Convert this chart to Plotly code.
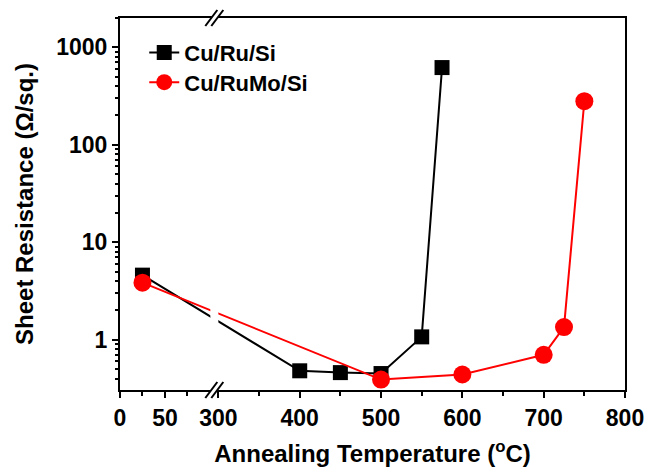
import numpy as np
import plotly.graph_objects as go

# ---- data ----
ru_temp = [25, 400, 450, 500, 550, 575]
ru_rs = [4.6, 0.48, 0.46, 0.45, 1.07, 620]
rumo_temp = [25, 500, 600, 700, 725, 750]
rumo_rs = [3.85, 0.39, 0.44, 0.70, 1.35, 280]
x_major = [0, 50, 300, 400, 500, 600, 700, 800]
x_minor = [25, 75, 350, 450, 550, 650, 750]
y_major = [1, 10, 100, 1000]

# ---- broken x-axis scale: low segment (0..~105) and high segment (~295..800) ----
U0, K, BREAK = 179.0, 1.105, 295.0


def u(t):
    t = np.asarray(t, dtype=float)
    return np.where(t < 200, U0 + K * t, t)


y_minor = [m * 10 ** d for d in range(-1, 4) for m in range(2, 10)
           if 0.3 <= m * 10 ** d <= 2000]

fig = go.Figure()
fig.add_trace(go.Scatter(
    x=u(ru_temp), y=ru_rs, mode="lines+markers", name="Cu/Ru/Si",
    line=dict(color="black", width=2),
    marker=dict(symbol="square", size=15, color="black"),
    legend="legend", showlegend=True))
fig.add_trace(go.Scatter(
    x=u(rumo_temp), y=rumo_rs, mode="lines+markers", name="Cu/RuMo/Si",
    line=dict(color="#ff0000", width=2),
    marker=dict(symbol="circle", size=18, color="#ff0000"),
    legend="legend2", showlegend=True))

font = "Liberation Sans, Arial, sans-serif"
fig.update_layout(
    width=656, height=475,
    margin=dict(l=120, r=20, t=18, b=81),
    plot_bgcolor="white", paper_bgcolor="white",
    showlegend=True,
    font=dict(family=font, color="black"),
    legend=dict(x=0.048, y=0.907, xanchor="left", yanchor="middle",
                font=dict(size=22, family=font, weight="bold"),
                bgcolor="rgba(0,0,0,0)"),
    legend2=dict(x=0.048, y=0.827, xanchor="left", yanchor="middle",
                 font=dict(size=22, family=font, weight="bold"),
                 bgcolor="rgba(0,0,0,0)"),
)
fig.update_xaxes(
    range=[U0, 800], showgrid=False, zeroline=False,
    showline=True, linewidth=2, linecolor="black", mirror=True,
    tickmode="array", tickvals=u(x_major), ticktext=[str(v) for v in x_major],
    ticks="outside", ticklen=6, tickwidth=2, tickcolor="black",
    ticklabeloverflow="allow",
    minor=dict(tickmode="array", tickvals=u(x_minor), ticks="outside",
               ticklen=4, tickwidth=2, tickcolor="black", showgrid=False),
    tickfont=dict(size=23, family=font, weight="bold"),
    title=dict(text="Annealing Temperature (<sup>o</sup>C)",
               font=dict(size=24, family=font, weight="bold"), standoff=16),
)
fig.update_yaxes(
    type="log", range=[np.log10(0.305), np.log10(2000)],
    showgrid=False, zeroline=False,
    showline=True, linewidth=2, linecolor="black", mirror=True,
    tickmode="array", tickvals=y_major, ticktext=[str(v) for v in y_major],
    ticks="outside", ticklen=6, tickwidth=2, tickcolor="black",
    minor=dict(tickmode="array", tickvals=y_minor, ticks="outside",
               ticklen=3, tickwidth=1.5, tickcolor="black", showgrid=False),
    tickfont=dict(size=23, family=font, weight="bold"),
    title=dict(text="Sheet Resistance (\u03a9/sq.)",
               font=dict(size=24, family=font, weight="bold"), standoff=16),
)

# ---- axis break decorations ----
# gap in the data lines
fig.add_shape(type="rect", xref="x", yref="paper", xsizemode="pixel",
              xanchor=BREAK, x0=-4, x1=4, y0=0.01, y1=0.99,
              fillcolor="white", line=dict(width=0), layer="above")
for yy in (0, 1):
    fig.add_shape(type="path", xref="x", yref="paper",
                  xsizemode="pixel", ysizemode="pixel",
                  xanchor=BREAK, yanchor=yy,
                  path="M -6,-7 L 0,-7 L 6,7 L 0,7 Z",
                  fillcolor="white", line=dict(width=0), layer="above")
    for dx in (-6, 0):
        fig.add_shape(type="path", xref="x", yref="paper",
                      xsizemode="pixel", ysizemode="pixel",
                      xanchor=BREAK, yanchor=yy,
                      path=f"M {dx - 3},-8 L {dx + 9},8",
                      line=dict(color="black", width=2), layer="above")

fig.write_html("out.html")
